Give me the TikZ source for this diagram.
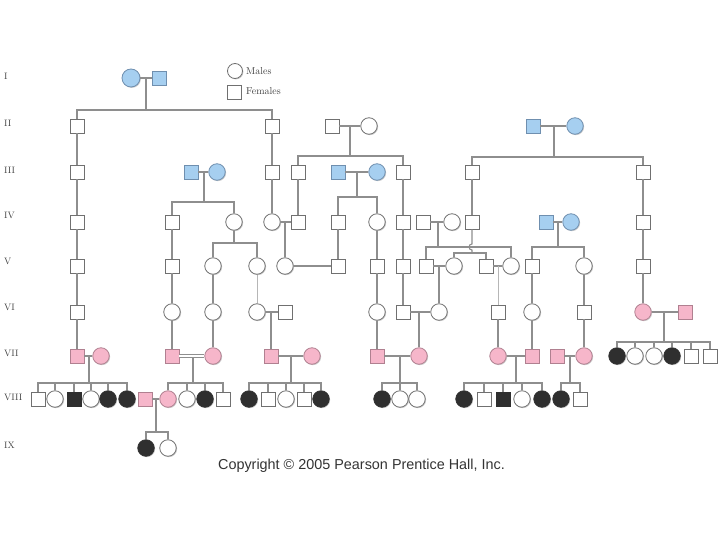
\documentclass[tikz,border=0pt]{standalone}
\usepackage{fontspec}
\newfontfamily\cpfont{Liberation Sans}
\usetikzlibrary{shadows}
\definecolor{blueF}{HTML}{A6CFF0}
\definecolor{blueD}{HTML}{6F8FAF}
\definecolor{pinkF}{HTML}{F6B6CA}
\definecolor{pinkD}{HTML}{B08090}
\definecolor{blk}{HTML}{2F2F2F}
\definecolor{bd}{HTML}{707070}
\definecolor{lnc}{HTML}{8E8E8E}
\begin{document}
\begin{tikzpicture}[x=1pt,y=-1pt,
  sym/.style={draw=bd, line width=0.8pt, fill=white, inner sep=0pt,
    drop shadow={shadow xshift=0.9pt, shadow yshift=-0.9pt, fill=black!40, opacity=0.5}},
  sq/.style={sym, rectangle, minimum size=14pt},
  ci/.style={sym, circle, minimum size=16.5pt},
  bl/.style={fill=blueF, draw=blueD},
  pk/.style={fill=pinkF, draw=pinkD},
  af/.style={fill=blk, draw=blk},
  conn/.style={draw=lnc, line width=1.1pt},
  lt/.style={draw=lnc!65, line width=1pt},
  gen/.style={anchor=west, inner sep=0pt, font=\fontsize{9.3}{11}\selectfont, text=black!75},
  legtxt/.style={anchor=west, inner sep=0pt, font=\fontsize{10}{12}\selectfont, text=black!75}
]
\useasboundingbox (0,0) rectangle (720,540);

% generation labels
\foreach \t/\y in {I/76,II/123,III/170,IV/215,V/261,VI/307,VII/353,VIII/397,IX/445}
  \node[gen] (lab\t) at (4,\y) {\t};

% legend
\node[ci, minimum size=15pt] (legc) at (235,71) {};
\node[legtxt] (legm) at (246,71) {Males};
\node[sq] (legs) at (234,92) {};
\node[legtxt] (legf) at (246,91) {Females};

% copyright
\node[font=\cpfont\fontsize{14.4}{16}\selectfont, text=black!80] (copy) at (361.5,466) {Copyright © 2005 Pearson Prentice Hall, Inc.};

% Row I
\node[ci,bl, minimum size=18pt] (i1) at (131,78) {};
\node[sq,bl] (i2) at (159,78) {};

% Row II
\node[sq] (ii1) at (77,126) {};
\node[sq] (ii2) at (272,126) {};
\node[sq] (ii3) at (332,126) {};
\node[ci] (ii4) at (369,126) {};
\node[sq,bl] (ii5) at (533,126) {};
\node[ci,bl] (ii6) at (575,126) {};

% Row III
\node[sq] (iii1) at (77,172) {};
\node[sq,bl] (iii2) at (191,172) {};
\node[ci,bl] (iii3) at (217,172) {};
\node[sq] (iii4) at (272,172) {};
\node[sq] (iii5) at (298,172) {};
\node[sq,bl] (iii6) at (338,172) {};
\node[ci,bl] (iii7) at (377,172) {};
\node[sq] (iii8) at (403,172) {};
\node[sq] (iii9) at (472,172) {};
\node[sq] (iii10) at (643,172) {};

% Row IV
\node[sq] (iv1) at (77,222) {};
\node[sq] (iv2) at (172,222) {};
\node[ci] (iv3) at (234,222) {};
\node[ci] (iv4) at (272,222) {};
\node[sq] (iv5) at (298,222) {};
\node[sq] (iv6) at (338,222) {};
\node[ci] (iv7) at (377,222) {};
\node[sq] (iv8) at (403,222) {};
\node[sq] (iv9) at (423,222) {};
\node[ci] (iv10) at (452,222) {};
\node[sq] (iv11) at (472,222) {};
\node[sq,bl] (iv12) at (546,222) {};
\node[ci,bl] (iv13) at (571,222) {};
\node[sq] (iv14) at (643,222) {};

% Row V
\node[sq] (v1) at (77,266) {};
\node[sq] (v2) at (172,266) {};
\node[ci] (v3) at (213,266) {};
\node[ci] (v4) at (257,266) {};
\node[ci] (v5) at (285,266) {};
\node[sq] (v6) at (338,266) {};
\node[sq] (v7) at (377,266) {};
\node[sq] (v8) at (403,266) {};
\node[sq] (v9) at (426,266) {};
\node[ci] (v10) at (454,266) {};
\node[sq] (v11) at (486,266) {};
\node[ci] (v12) at (511,266) {};
\node[sq] (v13) at (532,266) {};
\node[ci] (v14) at (584,266) {};
\node[sq] (v15) at (643,266) {};

% Row VI
\node[sq] (vi1) at (77,312) {};
\node[ci] (vi2) at (172,312) {};
\node[ci] (vi3) at (213,312) {};
\node[ci] (vi4) at (257,312) {};
\node[sq] (vi5) at (285,312) {};
\node[ci] (vi6) at (377,312) {};
\node[sq] (vi7) at (403,312) {};
\node[ci] (vi8) at (439,312) {};
\node[sq] (vi9) at (498,312) {};
\node[ci] (vi10) at (532,312) {};
\node[sq] (vi11) at (584,312) {};
\node[ci,pk] (vi12) at (643,312) {};
\node[sq,pk] (vi13) at (685,312) {};

% Row VII
\node[sq,pk] (vii1) at (77,356) {};
\node[ci,pk] (vii2) at (101,356) {};
\node[sq,pk] (vii3) at (172,356) {};
\node[ci,pk] (vii4) at (213,356) {};
\node[sq,pk] (vii5) at (271,356) {};
\node[ci,pk] (vii6) at (312,356) {};
\node[sq,pk] (vii7) at (377,356) {};
\node[ci,pk] (vii8) at (419,356) {};
\node[ci,pk] (vii9) at (498,356) {};
\node[sq,pk] (vii10) at (532,356) {};
\node[sq,pk] (vii11) at (557,356) {};
\node[ci,pk] (vii12) at (584,356) {};
\node[ci,af] (vii13) at (617,356) {};
\node[ci] (vii14) at (635,356) {};
\node[ci] (vii15) at (654,356) {};
\node[ci,af] (vii16) at (672,356) {};
\node[sq] (vii17) at (691,356) {};
\node[sq] (vii18) at (710,356) {};

% Row VIII
\node[sq] (viii1) at (38,399) {};
\node[ci] (viii2) at (55,399) {};
\node[sq,af] (viii3) at (74,399) {};
\node[ci] (viii4) at (91,399) {};
\node[ci,af] (viii5) at (108,399) {};
\node[ci,af] (viii6) at (127,399) {};
\node[sq,pk] (viii7) at (145,399) {};
\node[ci,pk] (viii8) at (168,399) {};
\node[ci] (viii9) at (187,399) {};
\node[ci,af] (viii10) at (205,399) {};
\node[sq] (viii11) at (223,399) {};
\node[ci,af] (viii12) at (249,399) {};
\node[sq] (viii13) at (268,399) {};
\node[ci] (viii14) at (286,399) {};
\node[sq] (viii15) at (304,399) {};
\node[ci,af] (viii16) at (321,399) {};
\node[ci,af] (viii17) at (382,399) {};
\node[ci] (viii18) at (400,399) {};
\node[ci] (viii19) at (417,399) {};
\node[ci,af] (viii20) at (464,399) {};
\node[sq] (viii21) at (484,399) {};
\node[sq,af] (viii22) at (503,399) {};
\node[ci] (viii23) at (522,399) {};
\node[ci,af] (viii24) at (542,399) {};
\node[ci,af] (viii25) at (561,399) {};
\node[sq] (viii26) at (580,399) {};

% Row IX
\node[ci,af] (ix1) at (146,448) {};
\node[ci] (ix2) at (168,448) {};

% ---------- connectors ----------
% I
\draw[conn] (i1) -- (i2);
\coordinate (mI) at (146,78); \coordinate (bI) at (146,110);
\draw[conn] (mI) -- (bI);
\draw[conn] (ii1) |- (bI) -| (ii2);

% II
\draw[conn] (ii1) -- (iii1) -- (iv1) -- (v1) -- (vi1) -- (vii1);
\draw[conn] (ii2) -- (iii4) -- (iv4);
\draw[conn] (ii3) -- (ii4);
\coordinate (mII) at (350,126); \coordinate (bII) at (350,156);
\draw[conn] (mII) -- (bII);
\draw[conn] (iii5) |- (bII) -| (iii8);
\draw[conn] (ii5) -- (ii6);
\coordinate (mIIb) at (554,126); \coordinate (bIIb) at (554,157);
\draw[conn] (mIIb) -- (bIIb);
\draw[conn] (iii9) |- (bIIb) -| (iii10);

% III
\draw[conn] (iii5) -- (iv5);
\draw[conn] (iii8) -- (iv8) -- (v8) -- (vi7);
\draw[conn] (iii9) -- (iv11);
\draw[conn] (iii10) -- (iv14) -- (v15) -- (vi12);
\draw[conn] (iii2) -- (iii3);
\coordinate (mIII) at (204,172); \coordinate (bIII) at (204,202);
\draw[conn] (mIII) -- (bIII);
\draw[conn] (iv2) |- (bIII) -| (iv3);
\draw[conn] (iii6) -- (iii7);
\coordinate (mIIIb) at (357,172); \coordinate (bIIIb) at (357,197);
\draw[conn] (mIIIb) -- (bIIIb);
\draw[conn] (iv6) |- (bIIIb) -| (iv7);

% IV
\draw[conn] (iv2) -- (v2) -- (vi2) -- (vii3);
\coordinate (bIV) at (234,243);
\draw[conn] (iv3) -- (bIV);
\draw[conn] (v3) |- (bIV) -| (v4);
\draw[conn] (iv4) -- (iv5);
\coordinate (mIV) at (285,222);
\draw[conn] (mIV) -- (v5);
\draw[conn] (iv6) -- (v6);
\draw[conn] (iv7) -- (v7) -- (vi6) -- (vii7);
\draw[conn] (iv9) -- (iv10);
\coordinate (mIVb) at (438,222); \coordinate (bIVb) at (438,247);
\draw[conn] (mIVb) -- (bIVb);
\draw[conn] (v9) |- (bIVb) -| (v12);
\coordinate (hA) at (472,244); \coordinate (bIVc) at (472,253);
\draw[conn] (iv11) -- (hA) arc (-90:-270:3) -- (bIVc);
\draw[conn] (v10) |- (bIVc) -| (v11);
\draw[conn] (iv12) -- (iv13);
\coordinate (mIVd) at (558,222); \coordinate (bIVd) at (558,247);
\draw[conn] (mIVd) -- (bIVd);
\draw[conn] (v13) |- (bIVd) -| (v14);

% V
\draw[conn] (v3) -- (vi3) -- (vii4);
\draw[lt] (v4) -- (vi4);
\draw[conn] (v5) -- (v6);
\draw[conn] (v9) -- (v10);
\coordinate (mV) at (439,266);
\draw[conn] (mV) -- (vi8);
\draw[conn] (v11) -- (v12);
\coordinate (mVb) at (498,266);
\draw[lt] (mVb) -- (vi9);
\draw[conn] (v13) -- (vi10) -- (vii10);
\draw[conn] (v14) -- (vi11) -- (vii12);

% VI
\draw[conn] (vi4) -- (vi5);
\coordinate (mVI) at (271,312);
\draw[conn] (mVI) -- (vii5);
\draw[conn] (vi7) -- (vi8);
\coordinate (mVIb) at (419,312);
\draw[conn] (mVIb) -- (vii8);
\draw[conn] (vi9) -- (vii9);
\draw[conn] (vi12) -- (vi13);
\coordinate (mVIc) at (664,312); \coordinate (bVIc) at (664,342);
\draw[conn] (mVIc) -- (bVIc);
\draw[conn] (vii13) |- (bVIc) -| (vii18);
\foreach \n in {vii14,vii15,vii16,vii17} \draw[conn] (\n) -- (\n |- bVIc);

% VII
\draw[conn] (vii1) -- (vii2);
\coordinate (mVII) at (89,356); \coordinate (bVII) at (89,383);
\draw[conn] (mVII) -- (bVII);
\draw[conn] (viii1) |- (bVII) -| (viii6);
\foreach \n in {viii2,viii3,viii4,viii5} \draw[conn] (\n) -- (\n |- bVII);

\coordinate (mVIIb) at (193,356); \coordinate (bVIIb) at (193,383);
\draw[conn] (mVIIb) -- (bVIIb);
\draw[conn, double=white, double distance=1.6pt, line width=0.9pt] (vii3) -- (vii4);
\draw[conn] (viii8) |- (bVIIb) -| (viii11);
\foreach \n in {viii9,viii10} \draw[conn] (\n) -- (\n |- bVIIb);

\draw[conn] (vii5) -- (vii6);
\coordinate (mVIIc) at (291,356); \coordinate (bVIIc) at (291,383);
\draw[conn] (mVIIc) -- (bVIIc);
\draw[conn] (viii12) |- (bVIIc) -| (viii16);
\foreach \n in {viii13,viii14,viii15} \draw[conn] (\n) -- (\n |- bVIIc);

\draw[conn] (vii7) -- (vii8);
\coordinate (mVIId) at (400,356); \coordinate (bVIId) at (400,383);
\draw[conn] (mVIId) -- (bVIId);
\draw[conn] (viii17) |- (bVIId) -| (viii19);
\draw[conn] (viii18) -- (viii18 |- bVIId);

\draw[conn] (vii9) -- (vii10);
\coordinate (mVIIe) at (516,356); \coordinate (bVIIe) at (516,383);
\draw[conn] (mVIIe) -- (bVIIe);
\draw[conn] (viii20) |- (bVIIe) -| (viii24);
\foreach \n in {viii21,viii22,viii23} \draw[conn] (\n) -- (\n |- bVIIe);

\draw[conn] (vii11) -- (vii12);
\coordinate (mVIIf) at (570,356); \coordinate (bVIIf) at (570,383);
\draw[conn] (mVIIf) -- (bVIIf);
\draw[conn] (viii25) |- (bVIIf) -| (viii26);

% VIII
\draw[conn] (viii7) -- (viii8);
\coordinate (mVIII) at (156,399); \coordinate (bVIII) at (156,432);
\draw[conn] (mVIII) -- (bVIII);
\draw[conn] (ix1) |- (bVIII) -| (ix2);
\end{tikzpicture}
\end{document}
